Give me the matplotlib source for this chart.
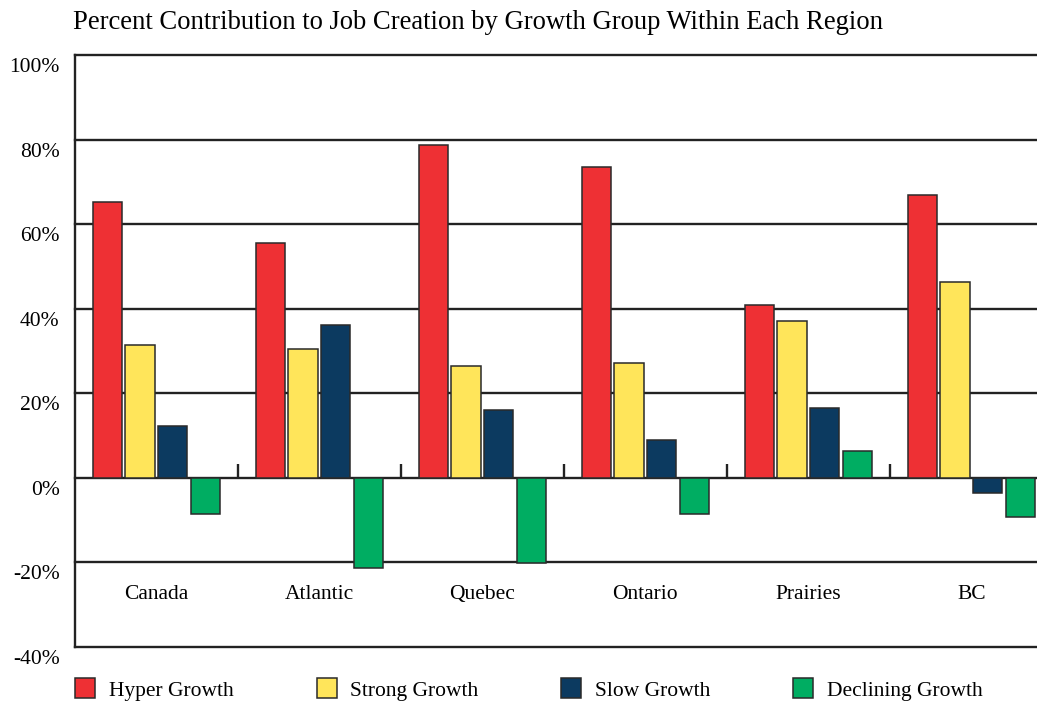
import numpy as np
import matplotlib.pyplot as plt
import matplotlib.transforms as mtransforms

regions = ['Canada', 'Atlantic', 'Quebec', 'Ontario', 'Prairies', 'BC']
groups = ['Hyper Growth', 'Strong Growth', 'Slow Growth', 'Declining Growth']
hyper = [65.2, 55.6, 78.8, 73.6, 40.9, 66.8]
strong = [31.5, 30.5, 26.5, 27.2, 37.2, 46.4]
slow = [12.3, 36.2, 16.1, 9.0, 16.6, -3.5]
declining = [-8.6, -21.2, -20.1, -8.5, 6.4, -9.2]
yticks = [-40, -20, 0, 20, 40, 60, 80, 100]

colors = ['#EE3034', '#FFE55A', '#0C3A60', '#00AD62']
series = [hyper, strong, slow, declining]

plt.rcParams['font.family'] = ['Liberation Serif', 'DejaVu Serif']
fs = 15.5

fig = plt.figure(figsize=(10.37, 7.02), dpi=100)
# axes runs past the right edge of the figure, so the last group is cut short
ax = fig.add_axes([0.0723, 0.0783, 0.943, 0.8433])

x = np.arange(len(regions))
step, width = 0.2, 0.18
for k, (vals, name, col) in enumerate(zip(series, groups, colors)):
    ax.bar(x + (k - 1.5) * step, vals, width, color=col, edgecolor='#2a2a2a',
           linewidth=1.1, label=name, zorder=3)

ax.set_xlim(-0.5, len(regions) - 0.5)
ax.set_ylim(-40, 100)
ax.set_yticks(yticks)
ax.set_yticklabels([f'{v}%' for v in yticks], fontsize=fs)
ax.tick_params(axis='y', length=0, pad=11)
ax.set_xticks([])
offset = mtransforms.ScaledTranslation(0, -10 / 100, fig.dpi_scale_trans)
for lab in ax.get_yticklabels():
    lab.set_transform(lab.get_transform() + offset)

for v in yticks:
    ax.axhline(v, color='#222222', linewidth=1.7, zorder=2, clip_on=False)
ax.vlines(x[:-1] + 0.5, 0, 3.3, color='#222222', linewidth=1.7, zorder=2)

for s in ['top', 'right', 'bottom']:
    ax.spines[s].set_visible(False)
ax.spines['left'].set_linewidth(1.7)
ax.spines['left'].set_color('#222222')

for xi, name in zip(x, regions):
    ax.text(xi, -27.5, name, ha='center', va='center', fontsize=fs)

fig.text(0.0705, 0.968, 'Percent Contribution to Job Creation by Growth Group Within Each Region',
         ha='left', va='center', fontsize=19.2)

fig.legend(loc='center left', bbox_to_anchor=(0.054, 0.018), ncol=4, frameon=False,
           fontsize=fs, handlelength=0.93, handleheight=1.05, handletextpad=0.62,
           columnspacing=3.86)

fig.savefig('out.png', dpi=100)
